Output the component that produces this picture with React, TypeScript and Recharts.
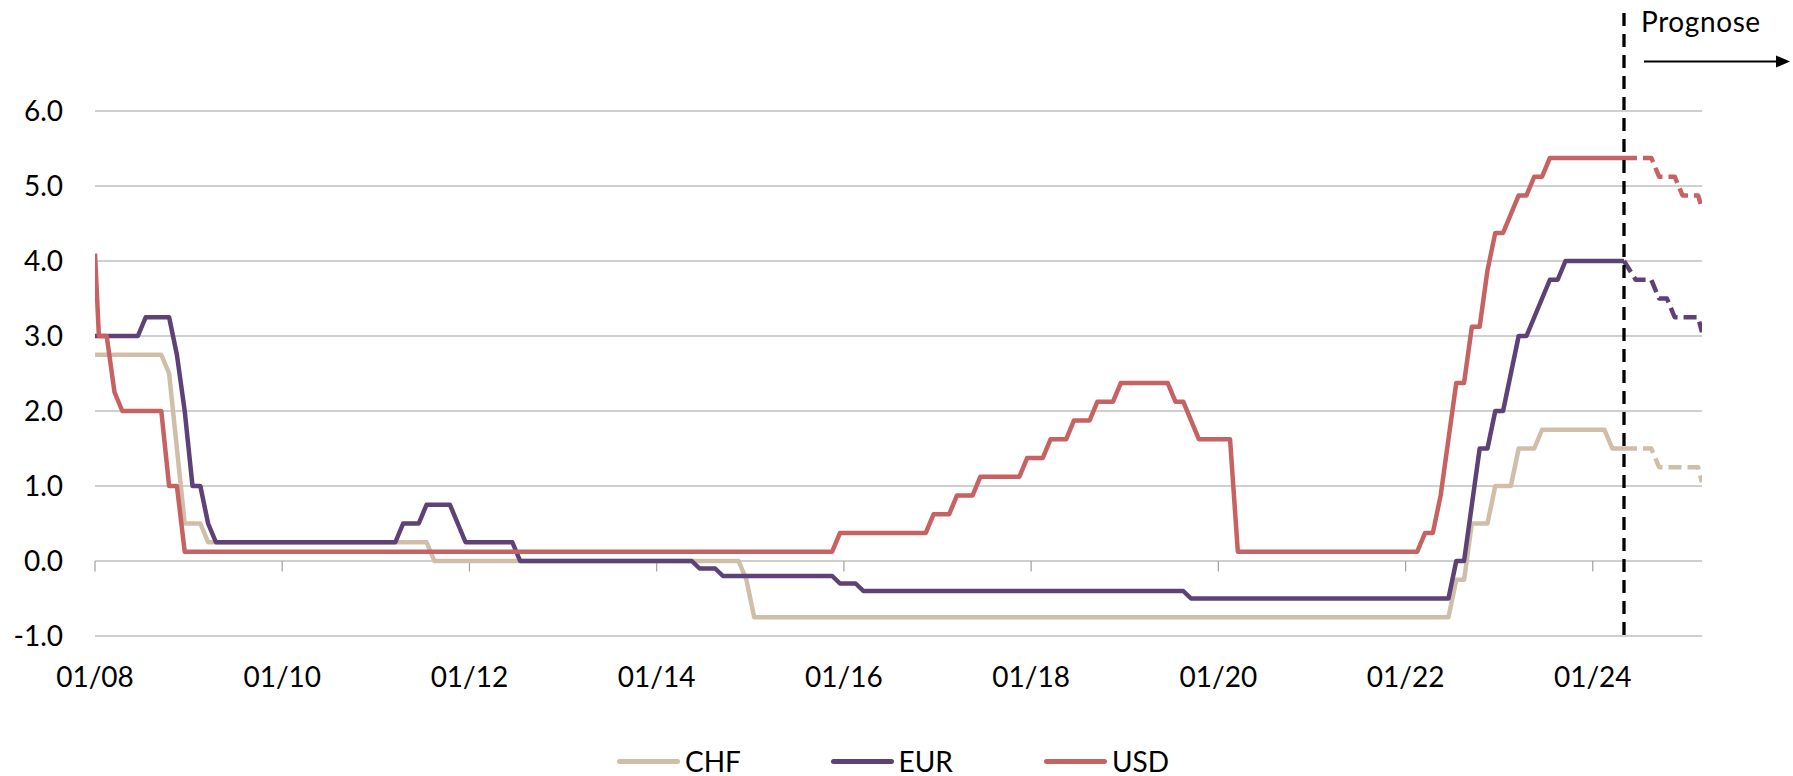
import {
  CartesianGrid,
  Legend,
  Line,
  LineChart,
  ReferenceLine,
  XAxis,
  YAxis,
} from "recharts";

// Policy rates in %, x = months since January 2008 (breakpoints)
const CHF_MONTHS = [0, 8.5, 9.5, 10.5, 11.5, 13.5, 14.5, 42.5, 43.5, 82.5, 83.5, 84.5, 173.5, 174.5, 175.5, 176.5, 178.5, 179.5, 181.5, 182.5, 184.5, 185.5, 193.5, 194.5, 196];
const CHF_RATES = [2.75, 2.75, 2.5, 1.5, 0.5, 0.5, 0.25, 0.25, 0, 0, -0.25, -0.75, -0.75, -0.25, -0.25, 0.5, 0.5, 1.0, 1.0, 1.5, 1.5, 1.75, 1.75, 1.5, 1.5];

const EUR_MONTHS = [0, 5.5, 6.5, 9.5, 10.5, 11.5, 12.5, 13.5, 14.5, 15.5, 38.5, 39.5, 41.5, 42.5, 45.5, 46.5, 47.5, 53.5, 54.5, 76.5, 77.5, 79.5, 80.5, 94.5, 95.5, 97.5, 98.5, 139.5, 140.5, 173.5, 174.5, 175.5, 176.5, 177.5, 178.5, 179.5, 180.5, 181.5, 182.5, 183.5, 184.5, 185.5, 186.5, 187.5, 188.5, 196];
const EUR_RATES = [3.0, 3.0, 3.25, 3.25, 2.75, 2.0, 1.0, 1.0, 0.5, 0.25, 0.25, 0.5, 0.5, 0.75, 0.75, 0.5, 0.25, 0.25, 0, 0, -0.1, -0.1, -0.2, -0.2, -0.3, -0.3, -0.4, -0.4, -0.5, -0.5, 0, 0, 0.75, 1.5, 1.5, 2.0, 2.0, 2.5, 3.0, 3.0, 3.25, 3.5, 3.75, 3.75, 4.0, 4.0];

const USD_MONTHS = [0, 0.5, 1.5, 2.5, 3.5, 8.5, 9.5, 10.5, 11.5, 94.5, 95.5, 106.5, 107.5, 109.5, 110.5, 112.5, 113.5, 118.5, 119.5, 121.5, 122.5, 124.5, 125.5, 127.5, 128.5, 130.5, 131.5, 137.5, 138.5, 139.5, 140.5, 141.5, 145.5, 146.5, 169.5, 170.5, 171.5, 172.5, 173.5, 174.5, 175.5, 176.5, 177.5, 178.5, 179.5, 180.5, 181.5, 182.5, 183.5, 184.5, 185.5, 186.5, 196];
const USD_RATES = [4.1, 3.0, 3.0, 2.25, 2.0, 2.0, 1.0, 1.0, 0.125, 0.125, 0.375, 0.375, 0.625, 0.625, 0.875, 0.875, 1.125, 1.125, 1.375, 1.375, 1.625, 1.625, 1.875, 1.875, 2.125, 2.125, 2.375, 2.375, 2.125, 2.125, 1.875, 1.625, 1.625, 0.125, 0.125, 0.375, 0.375, 0.875, 1.625, 2.375, 2.375, 3.125, 3.125, 3.875, 4.375, 4.375, 4.625, 4.875, 4.875, 5.125, 5.125, 5.375, 5.375];

// Forecast ("Prognose") segments, drawn dashed
const CHF_FC_MONTHS = [196, 199.5, 200.5, 205.5, 206];
const CHF_FC_RATES = [1.5, 1.5, 1.25, 1.25, 1.05];
const EUR_FC_MONTHS = [196, 197.5, 199.5, 200.5, 201.5, 202.5, 205.5, 206];
const EUR_FC_RATES = [4.0, 3.75, 3.75, 3.5, 3.5, 3.25, 3.25, 3.05];
const USD_FC_MONTHS = [196, 199.5, 200.5, 202.5, 203.5, 205.5, 206];
const USD_FC_RATES = [5.375, 5.375, 5.125, 5.125, 4.875, 4.875, 4.7];

const FORECAST_START = 196;
const X_END = 206;
const X_TICKS = [0, 24, 48, 72, 96, 120, 144, 168, 192];
const X_LABELS = ["01/08", "01/10", "01/12", "01/14", "01/16", "01/18", "01/20", "01/22", "01/24"];
const Y_TICKS = [-1, 0, 1, 2, 3, 4, 5, 6];

const COLOR = {
  CHF: "#D0BEA9",
  EUR: "#5D4177",
  USD: "#C76262",
} as const;

const FONT = "Lato, 'Open Sans', sans-serif";
const GRID = "#A0A0A0";
const WIDTH = 1793;
const HEIGHT = 776;

const toPoints = (months: number[], rates: number[]) =>
  months.map((m, i) => ({ m, v: rates[i] }));

const LEGEND_NAMES = ["CHF", "EUR", "USD"];

function LegendContent({ payload }: any) {
  const items = (payload ?? []).filter((p: any) => LEGEND_NAMES.includes(p.value));
  return (
    <div
      style={{
        display: "flex",
        alignItems: "center",
        height: 30,
        paddingLeft: 617,
        fontFamily: FONT,
        fontSize: 28,
        color: "#000",
      }}
    >
      {items.map((p: any) => (
        <div
          key={p.value}
          style={{ display: "flex", alignItems: "center", gap: 5, width: 213.5, flex: "none" }}
        >
          <span
            style={{
              display: "inline-block",
              width: 63,
              height: 5,
              borderRadius: 3,
              background: p.color,
            }}
          />
          <span style={{ lineHeight: "30px" }}>{p.value}</span>
        </div>
      ))}
    </div>
  );
}

export default function App() {
  const solid = {
    type: "linear" as const,
    dataKey: "v",
    dot: false,
    activeDot: false,
    strokeWidth: 4.5,
    strokeLinejoin: "round" as const,
    isAnimationActive: false,
  };
  const dashed = { ...solid, strokeDasharray: "13 6", legendType: "none" as const };

  return (
    <div
      style={{
        position: "absolute",
        left: 0,
        top: 0,
        width: WIDTH,
        height: HEIGHT,
        background: "#ffffff",
      }}
    >
      <LineChart
        width={WIDTH}
        height={HEIGHT}
        margin={{ top: 111, right: 91, bottom: 0, left: 0 }}
      >
        <CartesianGrid vertical={false} stroke={GRID} strokeWidth={1.2} />
        <XAxis
          dataKey="m"
          type="number"
          domain={[0, X_END]}
          allowDataOverflow
          ticks={X_TICKS}
          tickFormatter={(v) => X_LABELS[X_TICKS.indexOf(v)] ?? ""}
          axisLine={false}
          tickLine={false}
          tickSize={6}
          tickMargin={25}
          height={110}
          interval={0}
          tick={{ fill: "#000", fontSize: 28, fontFamily: FONT }}
        />
        <YAxis
          type="number"
          domain={[-1, 6]}
          ticks={Y_TICKS}
          tickFormatter={(v) => Number(v).toFixed(1)}
          axisLine={false}
          tickLine={false}
          tickSize={6}
          tickMargin={26}
          width={95}
          interval={0}
          tick={{ fill: "#000", fontSize: 28, fontFamily: FONT }}
        />
        {/* small tick marks hanging below the zero line */}
        {X_TICKS.map((t) => (
          <ReferenceLine
            key={`tick-${t}`}
            segment={[
              { x: t, y: 0 },
              { x: t, y: -0.14 },
            ]}
            stroke={GRID}
            strokeWidth={1.2}
            ifOverflow="visible"
          />
        ))}
        <Line {...solid} data={toPoints(CHF_MONTHS, CHF_RATES)} name="CHF" stroke={COLOR.CHF} />
        <Line {...solid} data={toPoints(EUR_MONTHS, EUR_RATES)} name="EUR" stroke={COLOR.EUR} />
        <Line {...solid} data={toPoints(USD_MONTHS, USD_RATES)} name="USD" stroke={COLOR.USD} />
        <Line {...dashed} data={toPoints(CHF_FC_MONTHS, CHF_FC_RATES)} name="CHF Prognose" stroke={COLOR.CHF} />
        <Line {...dashed} data={toPoints(EUR_FC_MONTHS, EUR_FC_RATES)} name="EUR Prognose" stroke={COLOR.EUR} />
        <Line {...dashed} data={toPoints(USD_FC_MONTHS, USD_FC_RATES)} name="USD Prognose" stroke={COLOR.USD} />
        <ReferenceLine
          x={FORECAST_START}
          ifOverflow="visible"
          shape={(p: any) => (
            <line
              x1={p.x1}
              x2={p.x2}
              y1={13}
              y2={Math.max(p.y1, p.y2) + 5}
              stroke="#000"
              strokeWidth={3.3}
              strokeDasharray="13 8"
            />
          )}
        />
        <Legend
          verticalAlign="bottom"
          align="left"
          content={<LegendContent />}
          wrapperStyle={{ left: 0, width: WIDTH }}
        />
      </LineChart>
      <svg
        width={WIDTH}
        height={HEIGHT}
        style={{ position: "absolute", left: 0, top: 0, pointerEvents: "none" }}
      >
        <text x={1641} y={31.5} fontFamily={FONT} fontSize={28} fill="#000" letterSpacing={0.6}>
          Prognose
        </text>
        <line x1={1644} y1={61.5} x2={1777} y2={61.5} stroke="#000" strokeWidth={2} />
        <polygon points="1776,55.5 1790,61.5 1776,67.5" fill="#000" />
      </svg>
    </div>
  );
}
